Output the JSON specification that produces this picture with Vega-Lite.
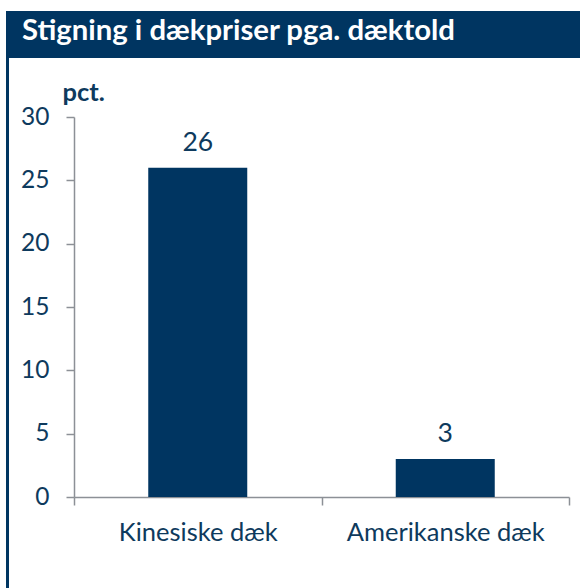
{
  "$schema": "https://vega.github.io/schema/vega-lite/v6.json",
  "padding": {"left": 6, "top": 11, "right": 0, "bottom": 0},
  "background": "white",
  "config": {
    "font": "Lato",
    "view": {"stroke": null},
    "axis": {"labelFont": "Lato", "titleFont": "Lato"}
  },
  "spacing": 0,
  "vconcat": [
    {
      "width": 574,
      "height": 47,
      "view": {"fill": "#003561", "stroke": null},
      "data": {"values": [{"title": "Stigning i dækpriser pga. dæktold"}]},
      "mark": {"type": "text", "align": "left", "baseline": "alphabetic", "dx": 16, "dy": -18, "fontSize": 29.3, "fontWeight": "bold", "color": "white", "font": "Lato"},
      "encoding": {
        "text": {"field": "title"},
        "x": {"datum": 0, "type": "quantitative", "scale": {"domain": [0, 1]}, "axis": null},
        "y": {"datum": 0, "type": "quantitative", "scale": {"domain": [0, 1]}, "axis": null}
      }
    },
    {
      "spacing": 11,
      "hconcat": [
        {
          "width": 3,
          "height": 535,
          "view": {"fill": "#003561", "stroke": null},
          "data": {"values": [{}]},
          "mark": {"type": "text", "text": " "},
          "encoding": {}
        },
        {
          "spacing": 0,
          "vconcat": [
            {
              "width": 1,
              "height": 22,
              "view": {"stroke": null},
              "data": {"values": [{}]},
              "mark": {"type": "text", "text": " "},
              "encoding": {}
            },
            {
              "width": 495,
              "height": 380,
              "data": {"values": [
                {"kategori": "Kinesiske dæk", "pct": 26},
                {"kategori": "Amerikanske dæk", "pct": 3}
              ]},
              "encoding": {
                "x": {
                  "field": "kategori", "type": "nominal", "sort": null,
                  "scale": {"paddingInner": 0, "paddingOuter": 0},
                  "axis": {
                    "title": null, "labelAngle": 0, "tickBand": "extent", "labelLimit": 400,
                    "labelFontSize": 25.5, "labelColor": "#0e3a5d", "labelPadding": 15,
                    "tickSize": 8, "tickColor": "#8c9096", "tickWidth": 1.5,
                    "domainColor": "#8c9096", "domainWidth": 1.5
                  }
                },
                "y": {
                  "field": "pct", "type": "quantitative",
                  "scale": {"domain": [0, 30]},
                  "axis": {
                    "title": "pct.", "titleAngle": 0, "titleAlign": "left", "titleBaseline": "alphabetic",
                    "titleX": -12, "titleY": -17, "titleFontSize": 25.5, "titleFontWeight": "bold", "titleColor": "#0e3a5d",
                    "values": [0, 5, 10, 15, 20, 25, 30], "grid": false,
                    "labelFontSize": 24.5, "labelColor": "#0e3a5d", "labelPadding": 17,
                    "tickSize": 8, "tickColor": "#8c9096", "tickWidth": 1.5,
                    "domainColor": "#8c9096", "domainWidth": 1.5
                  }
                }
              },
              "layer": [
                {"mark": {"type": "bar", "color": "#003561", "width": {"band": 0.4}}},
                {
                  "mark": {"type": "text", "baseline": "alphabetic", "dy": -17, "fontSize": 26.5, "color": "#0e3a5d"},
                  "encoding": {"text": {"field": "pct", "type": "quantitative"}}
                }
              ]
            }
          ]
        }
      ]
    }
  ]
}
